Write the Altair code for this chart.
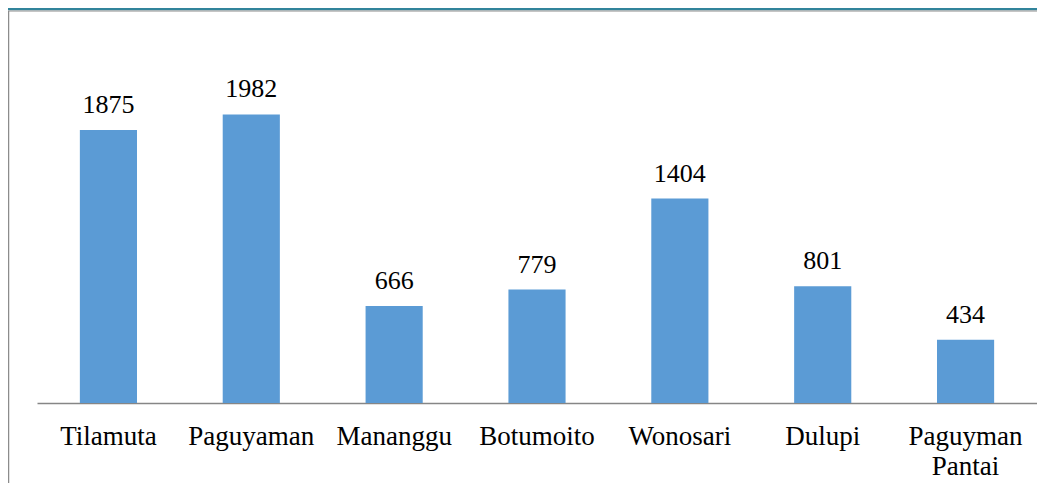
import altair as alt
import pandas as pd

categories = ["Tilamuta", "Paguyaman", "Mananggu", "Botumoito", "Wonosari", "Dulupi", "Paguyman Pantai"]
values = [1875, 1982, 666, 779, 1404, 801, 434]

df = pd.DataFrame({"kecamatan": categories, "jumlah": values})

FONT = "'Times New Roman', 'Liberation Serif', serif"
W, H = 1000, 364

x_scale = alt.Scale(paddingInner=0.6, paddingOuter=0.3)
y_scale = alt.Scale(domain=[0, 2500], nice=False, zero=True)

x_enc = alt.X(
    "kecamatan:N",
    sort=categories,
    scale=x_scale,
    axis=alt.Axis(
        title=None, ticks=False, labelAngle=0, domainColor="#868686", domainWidth=1.5,
        labelFont=FONT, labelFontSize=27, labelColor="#000000", labelPadding=20,
        labelLineHeight=30, labelExpr="split(datum.label, ' ')", grid=False,
    ),
)

bars = alt.Chart(df).mark_bar(color="#5B9BD5").encode(
    x=x_enc, y=alt.Y("jumlah:Q", scale=y_scale, axis=None)
)
text = alt.Chart(df).mark_text(
    font=FONT, fontSize=26, color="#000000", baseline="alphabetic", dy=-17
).encode(
    x=alt.X("kecamatan:N", sort=categories, scale=x_scale),
    y=alt.Y("jumlah:Q", scale=y_scale, axis=None),
    text="jumlah:Q",
)

deco = pd.DataFrame({"k": [0]})
teal = alt.Chart(deco).mark_rule(color="#31849B", strokeWidth=2.5).encode(
    x=alt.value(-29), x2=alt.value(1000), y=alt.value(-30)
)
grey_top = alt.Chart(deco).mark_rule(color="#8C8C8C", strokeWidth=1.2).encode(
    x=alt.value(-29), x2=alt.value(1000), y=alt.value(-28)
)
grey_left = alt.Chart(deco).mark_rule(color="#8C8C8C", strokeWidth=1.5).encode(
    x=alt.value(-28.5), y=alt.value(-28), y2=alt.value(444)
)

chart = alt.layer(bars, text, teal, grey_top, grey_left).properties(
    width=W, height=H,
    background="#ffffff",
    autosize=alt.AutoSizeParams(type="none"),
    padding={"left": 29, "top": 31, "right": 0, "bottom": 80},
).configure_view(stroke=None)

chart.save("out.html", embed_options={"renderer": "svg", "actions": False})
